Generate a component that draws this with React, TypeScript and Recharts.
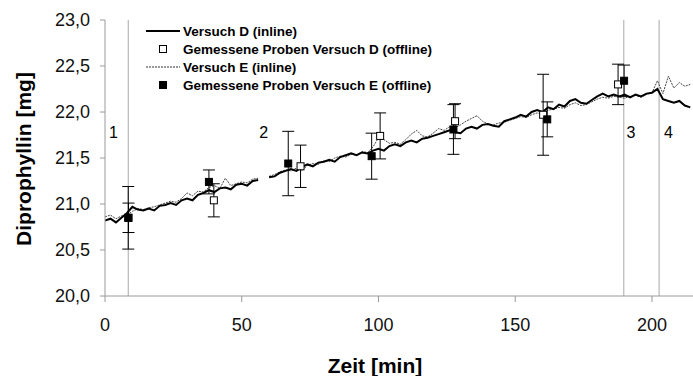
import React from "react";
import {
  ComposedChart,
  Line,
  Scatter,
  ErrorBar,
  XAxis,
  YAxis,
  ReferenceLine,
  ReferenceDot,
  Legend,
  Label,
} from "recharts";

// inline measurement, time in min
const inlineTime = [
  0, 2, 4, 6, 8, 10, 12, 14, 16, 18, 20, 22, 24, 26, 28, 30, 32, 34, 36, 38,
  40, 42, 44, 46, 48, 50, 52, 54, 56, 58, 60, 62, 64, 66, 68, 70, 72, 74, 76, 78,
  80, 82, 84, 86, 88, 90, 92, 94, 96, 98, 100, 102, 104, 106, 108, 110, 112, 114, 116, 118,
  120, 122, 124, 126, 128, 130, 132, 134, 136, 138, 140, 142, 144, 146, 148, 150, 152, 154, 156, 158,
  160, 162, 164, 166, 168, 170, 172, 174, 176, 178, 180, 182, 184, 186, 188, 190, 192, 194, 196, 198,
  200, 202, 204, 206, 208, 210, 212, 214,
];

const inlineD = [
  20.82, 20.84, 20.8, 20.85, 20.9, 20.97, 20.94, 20.93, 20.95, 20.93, 20.98, 20.99, 21.01, 20.99, 21.04, 21.06, 21.04, 21.1, 21.12, 21.15,
  21.13, 21.17, 21.18, 21.16, 21.21, 21.22, 21.2, 21.25, 21.26, null, 21.29, 21.3, 21.34, 21.36, 21.38, 21.36, 21.4, 21.43, 21.41, 21.45,
  21.46, 21.48, 21.46, 21.51, 21.53, 21.55, 21.53, 21.56, 21.55, 21.58, 21.6, 21.58, 21.63, 21.65, 21.63, 21.67, 21.69, 21.67, 21.71, 21.72,
  21.74, 21.76, 21.78, 21.8, 21.78, 21.77, 21.82, 21.84, 21.82, 21.86, 21.87, 21.85, 21.84, 21.9, 21.92, 21.94, 21.97, 21.95, 22.0, 22.02,
  22.0, 22.05, 22.03, 22.08, 22.06, 22.12, 22.14, 22.1, 22.09, 22.13, 22.17, 22.2, 22.17, 22.19, 22.17, 22.19, 22.16, 22.19, 22.17, 22.2,
  22.21, 22.25, 22.14, 22.12, 22.1, 22.12, 22.07, 22.05,
];

const inlineE = [
  20.86, 20.88, 20.84, 20.87, 20.88, 20.92, 20.95, 20.94, 20.96, 20.97, 20.99, 21.01, 21.03, 21.02, 21.06, 21.12, 21.09, 21.14, 21.13, 21.18,
  21.2, 21.17, 21.28, 21.2, 21.22, 21.24, 21.23, 21.27, 21.28, null, 21.3, 21.32, 21.35, 21.37, 21.36, 21.39, 21.36, 21.42, 21.44, 21.43,
  21.47, 21.46, 21.5, 21.52, 21.51, 21.54, 21.53, 21.57, 21.56, 21.62, 21.72, 21.7, 21.66, 21.67, 21.65, 21.7, 21.76, 21.8, 21.74, 21.73,
  21.77, 21.82, 21.8, 21.84, 21.83, 21.86, 21.9, 21.93, 21.96, 21.9, 21.87, 21.86, 21.88, 21.89, 21.91, 21.93, 21.95, 21.94, 21.97, 21.99,
  21.98, 22.02, 22.03, 22.05, 22.04, 22.08, 22.1, 22.07, 22.08, 22.11, 22.14, 22.16, 22.15, 22.17, 22.16, 22.15, 22.17, 22.18, 22.16, 22.19,
  22.21, 22.34, 22.2, 22.39, 22.26, 22.32, 22.28, 22.3,
];

// offline samples with error
const sampleTimeD = [8.6, 39.8, 71.5, 100.6, 128, 160.2, 187.6];
const sampleD = [20.85, 21.04, 21.41, 21.74, 21.9, 21.97, 22.3];
const sampleErrD = [0.16, 0.18, 0.23, 0.25, 0.19, 0.44, 0.22];

const sampleTimeE = [8.5, 38, 67, 97.5, 127.4, 161.7, 189.8];
const sampleE = [20.85, 21.24, 21.44, 21.52, 21.81, 21.92, 22.34];
const sampleErrE = [0.34, 0.13, 0.35, 0.25, 0.27, 0.19, 0.17];

const phaseBounds = [8.5, 189.7, 202.6];
const phaseNames = ["1", "2", "3", "4"];
const phaseLabelX = [3.1, 58, 192.3, 206];
const phaseLabelY = 21.775;

const xTicks = [0, 50, 100, 150, 200];
const yTicks = [20, 20.5, 21, 21.5, 22, 22.5, 23];

const legendNames = [
  "Versuch D (inline)",
  "Gemessene Proben Versuch D (offline)",
  "Versuch E (inline)",
  "Gemessene Proben Versuch E (offline)",
];

const lineD = inlineTime.map((x, i) => ({ x, y: inlineD[i] }));
const lineE = inlineTime.map((x, i) => ({ x, y: inlineE[i] }));
const pointsD = sampleTimeD.map((x, i) => ({ x, y: sampleD[i], err: sampleErrD[i] }));
const pointsE = sampleTimeE.map((x, i) => ({ x, y: sampleE[i], err: sampleErrE[i] }));

const FONT = "'Liberation Sans', Arial, sans-serif";
const AXIS = "#9a9a9a";

const square = (fill: string) => (props: any) => (
  <rect x={props.cx - 3.5} y={props.cy - 3.5} width={7} height={7} fill={fill} stroke="#000" strokeWidth={1} />
);

function LegendBox() {
  const icons = [
    <svg width={34} height={10}><line x1={0} y1={5} x2={34} y2={5} stroke="#000" strokeWidth={2} /></svg>,
    <svg width={34} height={10}><rect x={13.5} y={1.5} width={7} height={7} fill="#fff" stroke="#000" /></svg>,
    <svg width={34} height={10}><line x1={0} y1={5} x2={34} y2={5} stroke="#333" strokeWidth={1} strokeDasharray="2 1" /></svg>,
    <svg width={34} height={10}><rect x={13.5} y={1.5} width={7} height={7} fill="#000" stroke="#000" /></svg>,
  ];
  return (
    <div style={{ fontFamily: FONT, fontSize: 13.5, fontWeight: "bold", color: "#000" }}>
      {legendNames.map((n, i) => (
        <div key={n} style={{ display: "flex", alignItems: "center", height: 18, whiteSpace: "nowrap" }}>
          {icons[i]}
          <span style={{ marginLeft: 3 }}>{n}</span>
        </div>
      ))}
    </div>
  );
}

export default function App() {
  return (
    <div style={{ position: "absolute", left: 0, top: 0, background: "#fff" }}>
      <ComposedChart width={693} height={376} margin={{ top: 20, right: 0, bottom: 0, left: 0 }}>
        <XAxis
          dataKey="x"
          type="number"
          domain={[0, 215]}
          ticks={xTicks}
          height={80}
          stroke={AXIS}
          tickSize={6}
          tickMargin={16}
          tick={{ fill: "#111", fontSize: 18, fontFamily: FONT }}
          allowDataOverflow
        >
          <Label
            content={() => (
              <text x={375} y={373} textAnchor="middle" fontFamily={FONT} fontSize={21} fontWeight="bold" fill="#000">
                Zeit [min]
              </text>
            )}
          />
        </XAxis>
        <YAxis
          dataKey="y"
          type="number"
          domain={[20, 23]}
          ticks={yTicks}
          width={105}
          stroke={AXIS}
          tickSize={5}
          tickMargin={10}
          tick={{ fill: "#111", fontSize: 18, fontFamily: FONT }}
          tickFormatter={(v: number) => v.toFixed(1).replace(".", ",")}
        >
          <Label
            content={() => (
              <text
                x={31}
                y={159}
                transform="rotate(-90, 31, 159)"
                textAnchor="middle"
                fontFamily={FONT}
                fontSize={21}
                fontWeight="bold"
                fill="#000"
              >
                Diprophyllin [mg]
              </text>
            )}
          />
        </YAxis>
        {phaseBounds.map((b) => (
          <ReferenceLine key={b} x={b} stroke="#a8a8a8" strokeWidth={1} />
        ))}
        {phaseNames.map((n, i) => (
          <ReferenceDot
            key={n}
            x={phaseLabelX[i]}
            y={phaseLabelY}
            r={0}
            stroke="none"
            label={{ value: n, position: "center", fill: "#000", fontSize: 16, fontFamily: FONT }}
          />
        ))}
        <Line
          data={lineE}
          dataKey="y"
          name={legendNames[2]}
          stroke="#444"
          strokeWidth={1}
          strokeDasharray="2 1"
          dot={false}
          isAnimationActive={false}
        />
        <Line
          data={lineD}
          dataKey="y"
          name={legendNames[0]}
          stroke="#000"
          strokeWidth={2}
          dot={false}
          isAnimationActive={false}
        />
        <Scatter data={pointsD} dataKey="y" name={legendNames[1]} shape={square("#fff")} isAnimationActive={false}>
          <ErrorBar dataKey="err" direction="y" width={6} stroke="#000" strokeWidth={1} />
        </Scatter>
        <Scatter data={pointsE} dataKey="y" name={legendNames[3]} shape={square("#000")} isAnimationActive={false}>
          <ErrorBar dataKey="err" direction="y" width={6} stroke="#000" strokeWidth={1} />
        </Scatter>
        <Legend
          layout="vertical"
          align="center"
          verticalAlign="middle"
          wrapperStyle={{ left: 146, top: 22, width: "auto" }}
          content={() => <LegendBox />}
        />
      </ComposedChart>
    </div>
  );
}
